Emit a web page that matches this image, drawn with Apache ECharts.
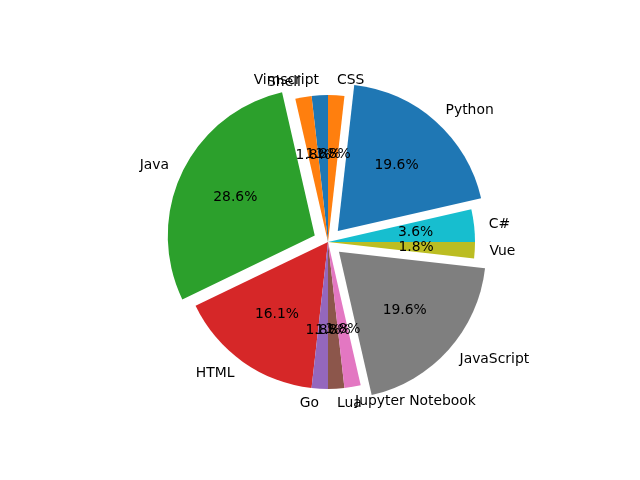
<!DOCTYPE html>
<html>
<head>
<meta charset="utf-8">
<script src="https://cdn.jsdelivr.net/npm/echarts@6/dist/echarts.min.js"></script>
<style>html,body{margin:0;padding:0;background:#fff;}#chart{width:640px;height:480px;}</style>
</head>
<body>
<div id="chart"></div>
<script>
const categories = ['Vimscript', 'Shell', 'Java', 'HTML', 'Go', 'Lua', 'Jupyter Notebook', 'JavaScript', 'Vue', 'C#', 'Python', 'CSS'];
const values = [1, 1, 16, 9, 1, 1, 1, 11, 1, 2, 11, 1];
const exploded = [false, false, true, false, false, false, false, true, false, false, true, false];
const palette = ['#1f77b4', '#ff7f0e', '#2ca02c', '#d62728', '#9467bd', '#8c564b', '#e377c2', '#7f7f7f', '#bcbd22', '#17becf', '#1f77b4', '#ff7f0e'];

const total = values.reduce((a, b) => a + b, 0);
const R = 147;
const cx = 328, cy = 242;
const explodePx = 0.1 * R;
const pctR = 2 * (0.6 * R - 3);
const font = 'DejaVu Sans';
const fs = 13.9;

const mainData = categories.map((c, i) => ({
  name: c, value: values[i], selected: exploded[i],
  itemStyle: { color: palette[i] }
}));
const pctData = categories.map((c, i) => ({
  name: c, value: values[i], selected: exploded[i],
  itemStyle: { color: 'rgba(0,0,0,0)' }
}));

const chart = echarts.init(document.getElementById('chart'), null, { renderer: 'canvas' });
chart.setOption({
  animation: false,
  backgroundColor: '#ffffff',
  series: [
    {
      type: 'pie',
      center: [cx, cy],
      radius: [0, R],
      startAngle: 90,
      clockwise: false,
      selectedMode: 'multiple',
      selectedOffset: explodePx,
      avoidLabelOverlap: false,
      labelLayout: { hideOverlap: false },
      silent: true,
      emphasis: { disabled: true },
      itemStyle: { borderWidth: 0 },
      label: {
        show: true, position: 'outside', color: '#000', fontFamily: font, fontSize: fs,
        distanceToLabelLine: 0, formatter: '{b}'
      },
      labelLine: { show: false, length: 0.1 * R, length2: 0 },
      data: mainData
    },
    {
      type: 'pie',
      center: [cx, cy],
      radius: [0, pctR],
      startAngle: 90,
      clockwise: false,
      selectedMode: 'multiple',
      selectedOffset: explodePx,
      avoidLabelOverlap: false,
      labelLayout: { hideOverlap: false },
      silent: true,
      z: 5,
      emphasis: { disabled: true },
      itemStyle: { borderWidth: 0 },
      label: {
        show: true, position: 'inside', color: '#000', fontFamily: font, fontSize: fs,
        formatter: p => (p.value / total * 100).toFixed(1) + '%'
      },
      labelLine: { show: false },
      data: pctData
    }
  ]
});
</script>
</body>
</html>
